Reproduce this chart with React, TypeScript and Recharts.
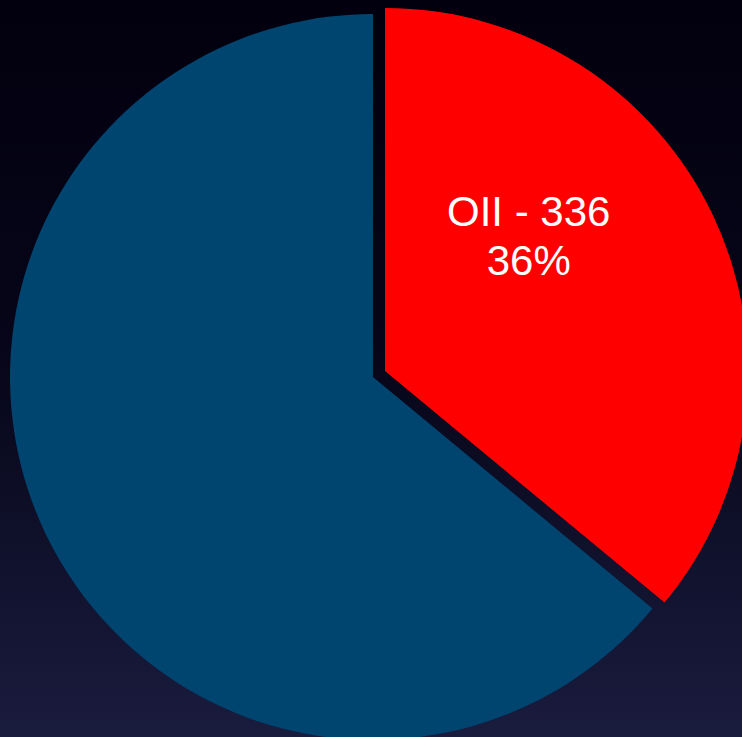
import { PieChart, Pie, Cell } from 'recharts';

const categories = ['OII', 'Other'];
const values = [336, 597];
const colors = ['#ff0000', '#00456f'];

const data = categories.map((name, i) => ({ name, value: values[i] }));

const RADIAN = Math.PI / 180;

const renderLabel = (props: any) => {
    const { cx, cy, midAngle, outerRadius, percent, name, value, index } = props;
    if (index !== 0) return null;
    // powerpoint-style "best fit" placement, a bit above the mid angle
    const angle = (midAngle + 18) * RADIAN;
    const r = outerRadius * 0.543;
    const x = cx + r * Math.cos(angle);
    const y = cy - r * Math.sin(angle);
    return (
        <text
            x={x}
            y={y}
            fill="#ffffff"
            textAnchor="middle"
            style={{ fontFamily: 'Liberation Sans, Arial, sans-serif', fontSize: '42px' }}
        >
            <tspan x={x} dy={-10}>{`${name} - ${value}`}</tspan>
            <tspan x={x} dy={49}>{`${Math.round(percent * 100)}%`}</tspan>
        </text>
    );
};

export default function App() {
    return (
        <div
            style={{
                position: 'fixed',
                left: 0,
                top: 0,
                width: 742,
                height: 737,
                background: 'linear-gradient(to bottom, #02000e 0%, #07061a 50%, #1a1c3e 100%)',
            }}
        >
            <PieChart width={742} height={737} margin={{ top: 0, right: 0, bottom: 0, left: 0 }}>
                <Pie
                    data={data}
                    dataKey="value"
                    nameKey="name"
                    cx={373}
                    cy={377}
                    outerRadius={363}
                    startAngle={90}
                    endAngle={-270}
                    stroke="none"
                    isAnimationActive={false}
                >
                    {data.map((d, i) => (
                        <Cell key={d.name} fill={i === 0 ? 'transparent' : colors[i]} />
                    ))}
                </Pie>
                <Pie
                    data={data}
                    dataKey="value"
                    nameKey="name"
                    cx={385}
                    cy={371}
                    outerRadius={363}
                    startAngle={90}
                    endAngle={-270}
                    stroke="none"
                    label={renderLabel}
                    labelLine={false}
                    isAnimationActive={false}
                >
                    {data.map((d, i) => (
                        <Cell key={d.name} fill={i === 0 ? colors[i] : 'transparent'} />
                    ))}
                </Pie>
            </PieChart>
        </div>
    );
}
